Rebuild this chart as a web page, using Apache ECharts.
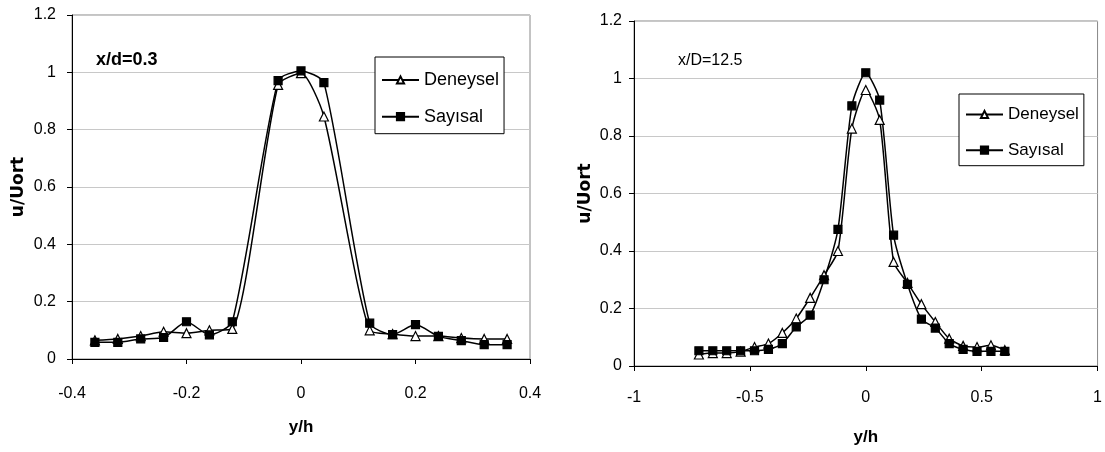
<!DOCTYPE html>
<html>
<head>
<meta charset="utf-8">
<script src="https://cdn.jsdelivr.net/npm/echarts@6/dist/echarts.min.js"></script>
<style>
html,body{margin:0;padding:0;background:#fff;}
#c{width:1105px;height:452px;}
</style>
</head>
<body>
<div id="c"></div>
<script>
// ---- data ----
const seriesNames = ['Deneysel', 'Sayısal'];
const leftLabel = 'x/d=0.3';
const rightLabel = 'x/D=12.5';
const xAxisTitle = 'y/h';
const yAxisTitle = 'u/Uort';

const xLeft = [-0.36, -0.32, -0.28, -0.24, -0.2, -0.16, -0.12, -0.04, 0, 0.04, 0.12, 0.16, 0.2, 0.24, 0.28, 0.32, 0.36];
const leftDeneysel = [0.065, 0.07, 0.08, 0.095, 0.09, 0.1, 0.105, 0.956, 0.997, 0.846, 0.1, 0.087, 0.08, 0.08, 0.073, 0.07, 0.07];
const leftSayisal = [0.058, 0.058, 0.07, 0.075, 0.13, 0.084, 0.13, 0.971, 1.005, 0.964, 0.125, 0.085, 0.12, 0.079, 0.064, 0.05, 0.05];

const xRight = [-0.72, -0.66, -0.6, -0.54, -0.48, -0.42, -0.36, -0.3, -0.24, -0.18, -0.12, -0.06, 0, 0.06, 0.12, 0.18, 0.24, 0.3, 0.36, 0.42, 0.48, 0.54, 0.6];
const rightDeneysel = [0.04, 0.045, 0.045, 0.05, 0.066, 0.078, 0.115, 0.165, 0.237, 0.316, 0.40, 0.826, 0.96, 0.856, 0.362, 0.289, 0.215, 0.153, 0.095, 0.07, 0.066, 0.072, 0.055];
const rightSayisal = [0.053, 0.053, 0.053, 0.053, 0.053, 0.058, 0.078, 0.136, 0.177, 0.30, 0.475, 0.905, 1.02, 0.925, 0.455, 0.284, 0.163, 0.132, 0.078, 0.058, 0.051, 0.051, 0.051];

const leftXRange = [-0.4, 0.4, 0.2];
const rightXRange = [-1, 1, 0.5];
const yRange = [0, 1.2, 0.2];

// ---- chart ----
const FONT = '"Liberation Sans", Arial, sans-serif';
const chart = echarts.init(document.getElementById('c'), null, {renderer: 'canvas'});

function pairs(xs, ys) { return xs.map((x, i) => [x, ys[i]]); }

function xAxisCfg(gridIndex, range, labelMargin, nameGap) {
  return {
    type: 'value', gridIndex, min: range[0], max: range[1], interval: range[2],
    name: xAxisTitle, nameLocation: 'middle', nameGap,
    nameTextStyle: {fontFamily: FONT, fontWeight: 'bold', fontSize: 17, color: '#000'},
    axisLine: {show: true, onZero: false, lineStyle: {color: '#000', width: 1}},
    axisTick: {show: true, length: 5, lineStyle: {color: '#000'}},
    axisLabel: {margin: labelMargin, fontFamily: FONT, fontSize: 16, color: '#000'},
    splitLine: {show: false}
  };
}
function yAxisCfg(gridIndex, labelMargin, nameGap) {
  return {
    type: 'value', gridIndex, min: yRange[0], max: yRange[1], interval: yRange[2],
    name: yAxisTitle, nameLocation: 'middle', nameGap,
    nameTextStyle: {fontFamily: '"DejaVu Sans", sans-serif', fontWeight: 'bold', fontSize: 17, color: '#000'},
    axisLine: {show: true, onZero: false, lineStyle: {color: '#000', width: 1}},
    axisTick: {show: true, length: 5, lineStyle: {color: '#000'}},
    axisLabel: {margin: labelMargin, fontFamily: FONT, fontSize: 16, color: '#000'},
    splitLine: {show: true, lineStyle: {color: '#c8c8c8', width: 1}}
  };
}
function lineSeries(name, idx, data, symbol, fill) {
  return {
    name, type: 'line', xAxisIndex: idx, yAxisIndex: idx, data,
    smooth: 0.22, symbol, symbolSize: symbol === 'triangle' ? 9 : 8,
    showAllSymbol: true, animation: false,
    lineStyle: {color: '#000', width: 1.5},
    itemStyle: {color: fill, borderColor: '#000', borderWidth: 1.2}
  };
}
function legendCfg(left, top, pad, gap, fs) {
  return {
    orient: 'vertical', left, top, padding: pad, itemGap: gap,
    itemWidth: 37, itemHeight: 9,
    borderColor: '#000', borderWidth: 1, backgroundColor: '#fff',
    data: seriesNames,
    textStyle: {fontFamily: FONT, fontSize: fs, color: '#000'},
    selectedMode: false
  };
}

chart.setOption({
  animation: false,
  backgroundColor: '#fff',
  title: [
    {text: leftLabel, left: 96, top: 51, padding: 0,
     textStyle: {fontFamily: FONT, fontWeight: 'bold', fontSize: 18, color: '#000'}},
    {text: rightLabel, left: 678, top: 53, padding: 0,
     textStyle: {fontFamily: FONT, fontWeight: 'normal', fontSize: 16, color: '#000'}}
  ],
  grid: [
    {left: 72, right: 575, top: 15, bottom: 93, show: true, borderColor: '#888', borderWidth: 1, backgroundColor: 'transparent'},
    {left: 634, right: 2, top: 21, bottom: 86, show: true, borderColor: '#888', borderWidth: 1, backgroundColor: 'transparent'}
  ],
  xAxis: [xAxisCfg(0, leftXRange, 27, 60), xAxisCfg(1, rightXRange, 24, 63)],
  yAxis: [yAxisCfg(0, 16, 45), yAxisCfg(1, 12, 40)],
  legend: [
    legendCfg(375, 57, [14, 5, 8, 6], 18.7, 18),
    legendCfg(959, 94, [12, 5, 7, 6], 18.7, 17)
  ],
  series: [
    lineSeries(seriesNames[0], 0, pairs(xLeft, leftDeneysel), 'triangle', '#fff'),
    lineSeries(seriesNames[1], 0, pairs(xLeft, leftSayisal), 'rect', '#000'),
    lineSeries(seriesNames[0], 1, pairs(xRight, rightDeneysel), 'triangle', '#fff'),
    lineSeries(seriesNames[1], 1, pairs(xRight, rightSayisal), 'rect', '#000')
  ]
});
</script>
</body>
</html>
